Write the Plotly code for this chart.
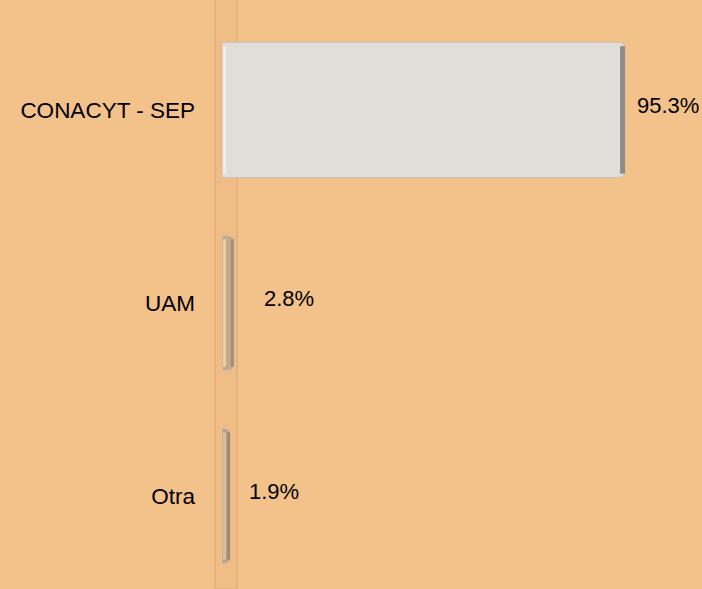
import plotly.graph_objects as go

categories = ["CONACYT - SEP", "UAM", "Otra"]
values = [95.3, 2.8, 1.9]
value_labels = ["95.3%", "2.8%", "1.9%"]

bar_colors = ["#E1DED9", "#C5A98D", "#BBA189"]
edge_colors = ["#8E8B88", "#A88E77", "#A38A73"]
edge_px = [5, 3, 3]
highlight_colors = ["#F0EEEB", "#ECCDAB", "#D9BDA0"]
label_xshift = [10, 28, 17]

BG = "#F3C18A"
FONT = "Liberation Sans, Arial, sans-serif"

fig = go.Figure()
fig.add_trace(go.Bar(
    y=categories, x=values, orientation="h",
    width=0.7,
    marker=dict(color=bar_colors, line=dict(color="#C9C2BA", width=1)),
    hoverinfo="skip",
))

shapes = [
    dict(type="rect", xref="paper", yref="paper",
         x0=-7 / 480, x1=15 / 480, y0=0, y1=1.03,
         fillcolor="#F0BD86", line=dict(color="#E2AF7C", width=1.5),
         layer="below"),
]
for i, v in enumerate(values):
    shapes.append(dict(type="rect", xref="x", yref="y",
                       xsizemode="pixel", xanchor=0, x0=1, x1=4,
                       y0=i - 0.33, y1=i + 0.33,
                       fillcolor=highlight_colors[i], line=dict(width=0),
                       layer="above"))
    shapes.append(dict(type="rect", xref="x", yref="y",
                       xsizemode="pixel", xanchor=v, x0=-edge_px[i], x1=0,
                       y0=i - 0.33, y1=i + 0.33,
                       fillcolor=edge_colors[i], line=dict(width=0),
                       layer="above"))

annotations = []
for i, v in enumerate(values):
    annotations.append(dict(x=v, y=categories[i], xref="x", yref="y",
                            text=value_labels[i], showarrow=False,
                            xanchor="left", yanchor="middle",
                            xshift=label_xshift[i], yshift=4,
                            font=dict(family=FONT, size=22, color="#000000")))

fig.update_layout(
    width=702, height=589,
    margin=dict(l=222, r=0, t=14, b=0),
    paper_bgcolor=BG, plot_bgcolor=BG,
    showlegend=False,
    barcornerradius=6,
    shapes=shapes,
    annotations=annotations,
    font=dict(family=FONT, size=22, color="#000000"),
)
fig.update_xaxes(range=[0, 113.5], visible=False, showgrid=False, zeroline=False)
fig.update_yaxes(range=[2.482, -0.497], showgrid=False, zeroline=False,
                 showline=False, ticks="", ticklabelstandoff=26,
                 tickfont=dict(family=FONT, size=22.5, color="#000000"))

fig.write_html("out.html",
               config={"displayModeBar": False},
               post_script="document.body.style.margin='0';document.body.style.background='" + BG + "';")
